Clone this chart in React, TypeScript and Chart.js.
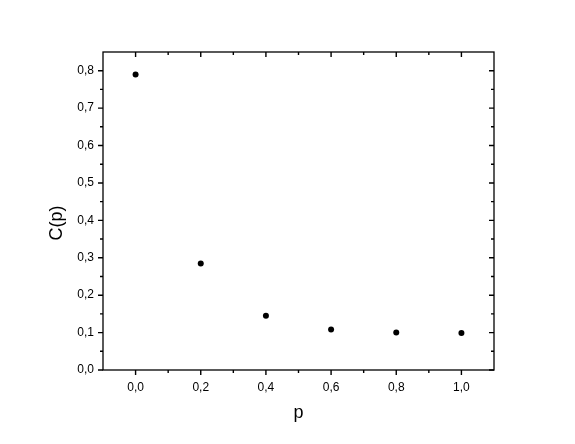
import React, { useEffect, useRef } from 'react';
import { Chart, registerables } from 'chart.js';

Chart.register(...registerables);

const pValues = [0.0, 0.2, 0.4, 0.6, 0.8, 1.0];
const cValues = [0.79, 0.285, 0.145, 0.108, 0.1, 0.099];
const xTickValues = [0.0, 0.2, 0.4, 0.6, 0.8, 1.0];
const yTickValues = [0.0, 0.1, 0.2, 0.3, 0.4, 0.5, 0.6, 0.7, 0.8];
const xRange = [-0.1, 1.1];
const yRange = [0, 0.85];
const xTitle = 'p';
const yTitle = 'C(p)';

const FONT = "Arial, 'Liberation Sans', sans-serif";
const fmt = (v: number) => Number(v).toFixed(1).replace('.', ',');

const mids = (arr: number[]) => arr.slice(0, -1).map((v, i) => (v + arr[i + 1]) / 2);

const framePlugin = {
  id: 'frameTicks',
  afterDraw(chart: any) {
    const { ctx, chartArea } = chart;
    const { left, right, top, bottom } = chartArea;
    const xs = chart.scales.x;
    const ys = chart.scales.y;
    ctx.save();
    ctx.strokeStyle = '#000';
    ctx.lineWidth = 1.3;
    ctx.strokeRect(left, top, right - left, bottom - top);

    const major = 5;
    const minor = 3;
    ctx.lineWidth = 1.4;
    ctx.beginPath();
    const xTick = (v: number, len: number) => {
      const px = xs.getPixelForValue(v);
      ctx.moveTo(px, bottom);
      ctx.lineTo(px, bottom + len);
      ctx.moveTo(px, top);
      ctx.lineTo(px, top + len);
    };
    const yTick = (v: number, len: number) => {
      const py = ys.getPixelForValue(v);
      ctx.moveTo(left, py);
      ctx.lineTo(left - len, py);
      ctx.moveTo(right, py);
      ctx.lineTo(right - len, py);
    };
    xTickValues.forEach((v) => xTick(v, major));
    mids(xTickValues).forEach((v) => xTick(v, minor));
    yTickValues.forEach((v) => yTick(v, major));
    mids(yTickValues).forEach((v) => yTick(v, minor));
    ctx.stroke();

    ctx.fillStyle = '#000';
    ctx.font = `18px ${FONT}`;
    ctx.textAlign = 'center';
    ctx.textBaseline = 'middle';
    ctx.fillText(xTitle, (left + right) / 2, bottom + 43);
    ctx.translate(left - 46, (top + bottom) / 2 + 12);
    ctx.rotate(-Math.PI / 2);
    ctx.fillText(yTitle, 0, 0);
    ctx.restore();
  },
};

export default function App() {
  const ref = useRef<HTMLCanvasElement | null>(null);

  useEffect(() => {
    if (!ref.current) return;
    const chart = new Chart(ref.current, {
      type: 'scatter',
      data: {
        datasets: [
          {
            data: pValues.map((x, i) => ({ x, y: cValues[i] })),
            backgroundColor: '#000',
            borderColor: '#000',
            pointRadius: 3,
            pointHoverRadius: 3,
            borderWidth: 0,
          },
        ],
      },
      options: {
        animation: false,
        responsive: false,
        maintainAspectRatio: false,
        events: [],
        layout: { padding: { left: 0, top: 52, right: 81, bottom: 0 } },
        plugins: { legend: { display: false }, tooltip: { enabled: false }, title: { display: false } },
        scales: {
          x: {
            type: 'linear',
            min: xRange[0],
            max: xRange[1],
            afterBuildTicks: (s: any) => {
              s.ticks = xTickValues.map((value) => ({ value }));
            },
            afterFit: (s: any) => {
              s.height = 74;
            },
            grid: { display: false, drawTicks: false, tickLength: 0 },
            border: { display: false },
            ticks: {
              padding: 10,
              color: '#000',
              autoSkip: false,
              maxRotation: 0,
              font: { size: 12, family: FONT },
              callback: (v: any) => fmt(v),
            },
          },
          y: {
            type: 'linear',
            min: yRange[0],
            max: yRange[1],
            afterBuildTicks: (s: any) => {
              s.ticks = yTickValues.map((value) => ({ value }));
            },
            afterFit: (s: any) => {
              s.width = 103;
            },
            grid: { display: false, drawTicks: false, tickLength: 0 },
            border: { display: false },
            ticks: {
              padding: 9,
              color: '#000',
              autoSkip: false,
              font: { size: 12, family: FONT },
              callback: (v: any) => fmt(v),
            },
          },
        },
      },
      plugins: [framePlugin],
    });
    return () => chart.destroy();
  }, []);

  return (
    <div style={{ position: 'fixed', left: 0, top: 0, width: 575, height: 444, background: '#fff' }}>
      <canvas ref={ref} width={575} height={444} style={{ display: 'block', width: 575, height: 444 }} />
    </div>
  );
}
